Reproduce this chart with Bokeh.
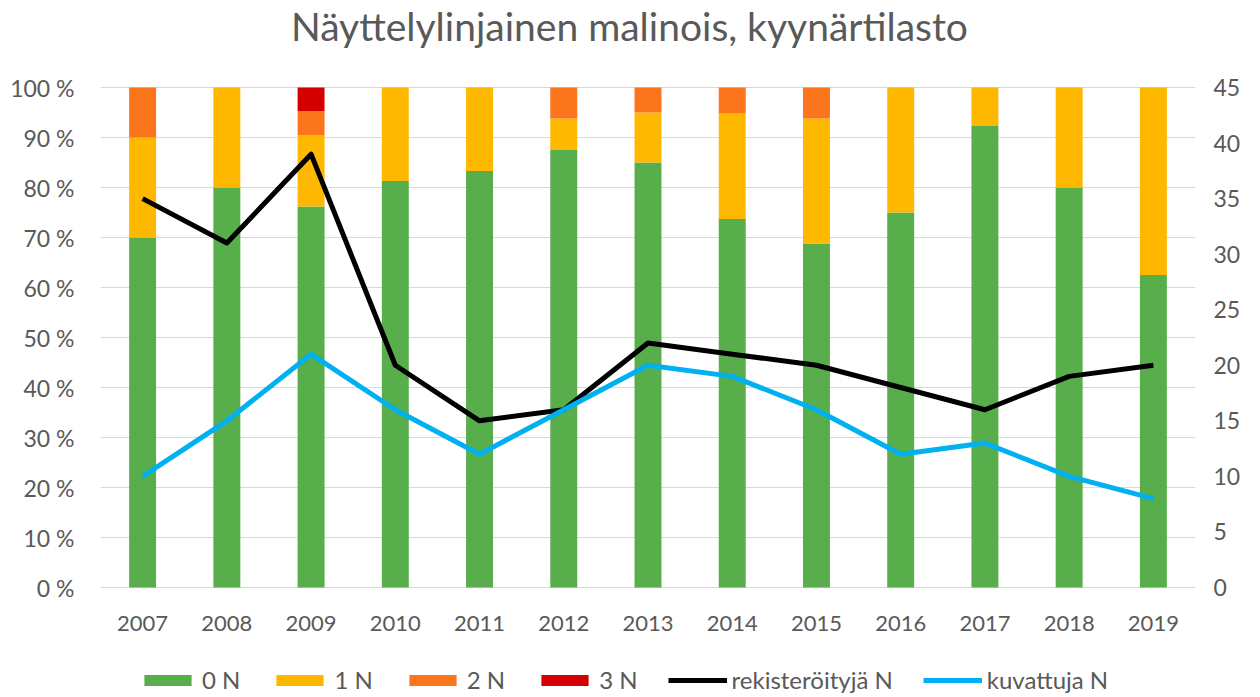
from bokeh.plotting import figure
from bokeh.models import (Range1d, LinearAxis, FixedTicker, CustomJSTickFormatter,
                          Legend, LegendItem, FactorRange, ColumnDataSource, Label)
from bokeh.embed import file_html
from bokeh.resources import INLINE

years = ["2007", "2008", "2009", "2010", "2011", "2012", "2013",
         "2014", "2015", "2016", "2017", "2018", "2019"]
n0 = [70.0, 80.0, 76.2, 81.3, 83.3, 87.5, 85.0, 73.7, 68.8, 75.0, 92.3, 80.0, 62.5]
n1 = [20.0, 20.0, 14.3, 18.7, 16.7, 6.3, 10.0, 21.1, 25.0, 25.0, 7.7, 20.0, 37.5]
n2 = [10.0, 0.0, 4.8, 0.0, 0.0, 6.2, 5.0, 5.2, 6.2, 0.0, 0.0, 0.0, 0.0]
n3 = [0.0, 0.0, 4.7, 0.0, 0.0, 0.0, 0.0, 0.0, 0.0, 0.0, 0.0, 0.0, 0.0]
rekisteroityja = [35, 31, 39, 20, 15, 16, 22, 21, 20, 18, 16, 19, 20]
kuvattuja = [10, 15, 21, 16, 12, 16, 20, 19, 16, 12, 13, 10, 8]

stack_keys = ["n0", "n1", "n2", "n3"]
stack_labels = ["0 N", "1 N", "2 N", "3 N"]
colors = ["#57AE4B", "#FFB800", "#FB751D", "#D40000"]
title_text = "Näyttelylinjainen malinois, kyynärtilasto"

FONT = "Lato"
TXT = "#595959"

# layout geometry (pixels): figure height, plot-area top / bottom
H = 696
TOP = 87
BOT = 587
pct_per_px = 100.0 / (BOT - TOP)
n_per_px = 45.0 / (BOT - TOP)

src = ColumnDataSource(dict(years=years, n0=n0, n1=n1, n2=n2, n3=n3,
                            rek=rekisteroityja, kuv=kuvattuja))

p = figure(x_range=FactorRange(*years),
           y_range=Range1d(-(H - BOT) * pct_per_px, 100 + TOP * pct_per_px),
           width=1259, height=H, output_backend="svg", toolbar_location=None,
           min_border_left=100, min_border_right=64, min_border_top=0,
           min_border_bottom=0)
p.outline_line_color = None
p.background_fill_color = "white"
p.border_fill_color = "white"

p.extra_y_ranges = {"n": Range1d(-(H - BOT) * n_per_px, 45 + TOP * n_per_px)}

bars = p.vbar_stack(stack_keys, x="years", width=0.32, source=src,
                    fill_color=colors, line_color=None)

rl = p.line("years", "rek", source=src, y_range_name="n", line_color="black",
            line_width=5, line_join="round")
kl = p.line("years", "kuv", source=src, y_range_name="n", line_color="#00B0F0",
            line_width=5, line_join="round")

# grid
p.xgrid.grid_line_color = None
p.ygrid.grid_line_color = "#D9D9D9"
p.ygrid.grid_line_width = 1
p.ygrid.ticker = FixedTicker(ticks=list(range(0, 101, 10)))

# left axis
ya = p.yaxis[0]
ya.ticker = FixedTicker(ticks=list(range(0, 101, 10)))
ya.formatter = CustomJSTickFormatter(code="return tick + ' %'")
ya.axis_line_color = None
ya.major_tick_line_color = None
ya.minor_tick_line_color = None
ya.major_label_standoff = 20
ya.major_label_text_font = FONT
ya.major_label_text_font_size = "23px"
ya.major_label_text_color = TXT

# right axis
ra = LinearAxis(y_range_name="n", ticker=FixedTicker(ticks=list(range(0, 46, 5))))
ra.axis_line_color = None
ra.major_tick_line_color = None
ra.minor_tick_line_color = None
ra.major_label_standoff = 12
ra.major_label_text_font = FONT
ra.major_label_text_font_size = "23px"
ra.major_label_text_color = TXT
p.add_layout(ra, "right")

# x axis drawn at the 0 line
xa = p.xaxis[0]
xa.fixed_location = 0
xa.axis_line_color = None
xa.major_tick_line_color = None
xa.minor_tick_line_color = None
xa.major_label_standoff = 22
xa.major_label_text_font = FONT
xa.major_label_text_font_size = "22px"
xa.major_label_text_color = TXT

# title
p.add_layout(Label(x=6.28, y=100 + (TOP - 25) * pct_per_px, text=title_text,
                   text_align="center", text_baseline="alphabetic",
                   text_font=FONT, text_font_size="39px", text_color=TXT))

items = [LegendItem(label=lab, renderers=[r]) for lab, r in zip(stack_labels, bars)]
items += [LegendItem(label="rekisteröityjä N", renderers=[rl]),
          LegendItem(label="kuvattuja N", renderers=[kl])]
leg = Legend(items=items, orientation="horizontal", location=(38, 2),
             glyph_width=59, glyph_height=14, label_standoff=5, spacing=30,
             padding=0, margin=0, border_line_color=None,
             background_fill_alpha=0, label_text_font=FONT,
             label_text_font_size="24px", label_text_color=TXT)
p.add_layout(leg, "center")

open("out.html", "w").write(file_html(p, INLINE))
